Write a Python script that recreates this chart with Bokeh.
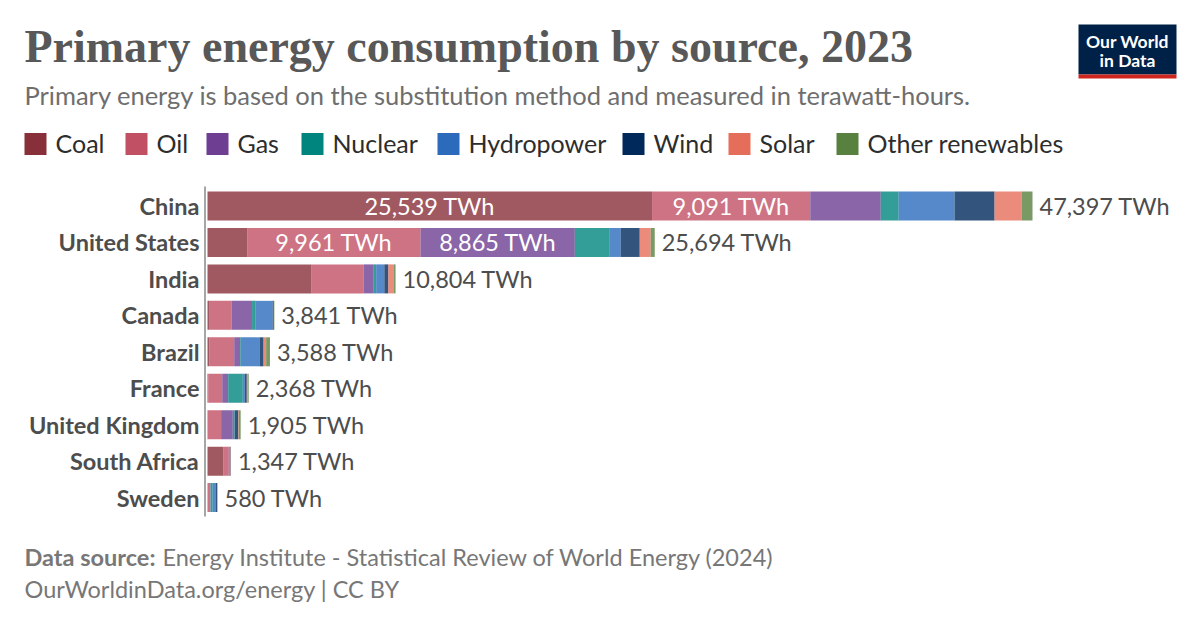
from bokeh.plotting import figure
from bokeh.models import Range1d, ColumnDataSource
from bokeh.core.properties import value
from bokeh.embed import file_html
from bokeh.resources import INLINE

# ---------------- data ----------------
countries = ["China", "United States", "India", "Canada", "Brazil", "France",
             "United Kingdom", "South Africa", "Sweden"]
sources = ["Coal", "Oil", "Gas", "Nuclear", "Hydropower", "Wind", "Solar", "Other renewables"]
coal = [25539, 2278, 5980, 90, 115, 40, 20, 900, 15]
oil = [9091, 9961, 2990, 1300, 1420, 808, 763, 320, 150]
gas = [4046, 8865, 580, 1170, 345, 340, 670, 40, 8]
nuclear = [1033, 2008, 140, 210, 40, 840, 100, 25, 125]
hydro = [3213, 630, 470, 970, 1070, 120, 12, 5, 165]
wind = [2295, 1090, 230, 70, 230, 110, 200, 30, 85]
solar = [1549, 630, 320, 11, 150, 60, 30, 22, 7]
other = [631, 232, 94, 20, 218, 50, 110, 5, 25]
totals = [47397, 25694, 10804, 3841, 3588, 2368, 1905, 1347, 580]

# ---------------- styles / layout ----------------
colors = ["#883039", "#C15065", "#6D3E91", "#00847E", "#2C6BBB", "#00295B", "#E56E5A", "#58813F"]
W, H = 1184, 612
BAR_LEFT = 207               # canvas x where value 0 sits
BAR_RIGHT_CHINA = 1032
ROW0 = 205.5                 # canvas y of first row centre
ROW_STEP = 36.45
BAR_H = 29 / ROW_STEP
FONT = value("Lato")
TXT = "#4d4d4d"
LBL_SIZE = "23.5px"

scale = totals[0] / (BAR_RIGHT_CHINA - BAR_LEFT)   # TWh per pixel
x_start = -BAR_LEFT * scale
x_end = (W - BAR_LEFT) * scale
y_top = -ROW0 / ROW_STEP
y_bottom = (H - ROW0) / ROW_STEP

p = figure(width=W, height=H, output_backend="svg", toolbar_location=None,
           x_range=Range1d(x_start, x_end), y_range=Range1d(y_bottom, y_top),
           x_axis_type=None, y_axis_type=None, min_border=0,
           background_fill_color="white", border_fill_color="white")
p.outline_line_color = None
p.extra_x_ranges = {"px": Range1d(0, W)}
p.extra_y_ranges = {"px": Range1d(H, 0)}

rows = list(range(len(countries)))
data = dict(row=rows, country=countries, total=totals,
            total_lbl=[f"{t:,} TWh" for t in totals])
series = [coal, oil, gas, nuclear, hydro, wind, solar, other]
for name, vals in zip(sources, series):
    data[name] = vals
src = ColumnDataSource(data)

# axis line
p.segment(x0=[204.5], x1=[204.5], y0=[186], y1=[516],
          x_range_name="px", y_range_name="px", line_color="#a6a6a6", line_width=2)

p.hbar_stack(sources, y="row", height=BAR_H, color=colors, fill_alpha=0.8,
             line_alpha=0, source=src)

# labels inside big segments
in_x, in_y, in_t = [], [], []
for r in rows:
    left = 0
    for vals in series:
        v = vals[r]
        if v >= 8000:
            in_x.append(left + v / 2)
            in_y.append(r)
            in_t.append(f"{v:,} TWh")
        left += v
p.text(x=in_x, y=in_y, text=in_t, text_align="center", text_baseline="middle",
       text_font=FONT, text_font_size=LBL_SIZE, text_color="white")

# totals
p.text(x="total", y="row", text="total_lbl", source=src, x_offset=7,
       text_align="left", text_baseline="middle", text_font=FONT,
       text_font_size=LBL_SIZE, text_color=TXT)

# category labels
p.text(x=0, y="row", text="country", source=src, x_offset=-8,
       text_align="right", text_baseline="middle", text_font=FONT,
       text_font_style="bold", text_font_size=LBL_SIZE, text_color=TXT)

# ---------------- header ----------------
p.text(x=[24], y=[46], text=["Primary energy consumption by source, 2023"],
       x_range_name="px", y_range_name="px", text_align="left", text_baseline="alphabetic",
       text_font=value("Liberation Serif"), text_font_style="bold",
       text_font_size="46px", text_color="#585858")
p.text(x=[24], y=[94],
       text=["Primary energy is based on the substitution method and measured in terawatt-hours."],
       x_range_name="px", y_range_name="px", text_align="left", text_baseline="alphabetic",
       text_font=FONT, text_font_size="25.5px", text_color="#6e6e6e")

# legend
leg_sw_x = [24, 125, 206, 301, 437, 622, 728, 836]
leg_y = 143.5
sw = 22
p.quad(left=leg_sw_x, right=[x + sw for x in leg_sw_x],
       top=[leg_y - sw / 2] * len(sources), bottom=[leg_y + sw / 2] * len(sources),
       fill_color=colors, line_color=None, x_range_name="px", y_range_name="px")
p.text(x=[x + 31 for x in leg_sw_x], y=[leg_y - 1.5] * len(sources), text=sources,
       x_range_name="px", y_range_name="px", text_align="left", text_baseline="middle",
       text_font=FONT, text_font_size="25px", text_color="#2d2d2d")

# logo
p.quad(left=[1078], right=[1176], top=[24], bottom=[74],
       fill_color="#002147", line_color=None, x_range_name="px", y_range_name="px")
p.quad(left=[1078], right=[1176], top=[74], bottom=[78],
       fill_color="#ce261e", line_color=None, x_range_name="px", y_range_name="px")
p.text(x=[1127, 1127], y=[41, 60], text=["Our World", "in Data"],
       x_range_name="px", y_range_name="px", text_align="center", text_baseline="middle",
       text_font=FONT, text_font_style="bold", text_font_size="17.5px", text_color="white")

# footer
p.text(x=[24], y=[556], text=["Data source:"], x_range_name="px", y_range_name="px",
       text_align="left", text_baseline="middle", text_font=FONT, text_font_style="bold",
       text_font_size="23.5px", text_color="#777777")
p.text(x=[162], y=[556],
       text=["Energy Institute - Statistical Review of World Energy (2024)"],
       x_range_name="px", y_range_name="px", text_align="left", text_baseline="middle",
       text_font=FONT, text_font_size="23.5px", text_color="#777777")
p.text(x=[24], y=[588], text=["OurWorldinData.org/energy | CC BY"],
       x_range_name="px", y_range_name="px", text_align="left", text_baseline="middle",
       text_font=FONT, text_font_size="23.5px", text_color="#777777")

open("out.html", "w").write(file_html(p, INLINE))
